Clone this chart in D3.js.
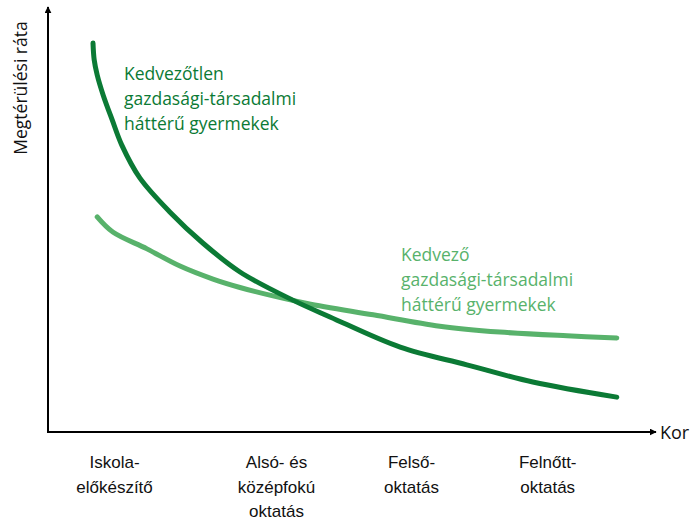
<!DOCTYPE html>
<html>
<head>
<meta charset="utf-8">
<script src="https://cdn.jsdelivr.net/npm/d3@7"></script>
<style>
  body { margin: 0; background: #fff; }
  svg { font-family: "Open Sans", sans-serif; }
</style>
</head>
<body>
<div id="chart"></div>
<script>
// age position (0-100) and return rate (0-100)
var disadvAge  = [7.5, 7.7, 8.2, 9.2, 10.7, 12.3, 15.3, 20.3, 25.8, 32, 40.8, 47, 58.7, 69.8, 80.8, 94.8];
var disadvRate = [92.6, 88.6, 85.0, 80.2, 74.3, 68.3, 60.5, 52.4, 45, 38.1, 31.4, 27.4, 20.2, 16.0, 11.9, 8.3];

var advAge  = [8.2, 10.8, 16.5, 22, 27.5, 32, 37.5, 43.2, 54.2, 65.3, 75.3, 86.5, 94.8];
var advRate = [51.2, 47.6, 43.6, 39.5, 36.4, 34.4, 32.4, 30.6, 27.9, 25.2, 23.8, 22.9, 22.4];

// education stages along the age axis
var stages   = ["Iskola-\nelőkészítő", "Alsó- és\nközépfokú\noktatás", "Felső-\noktatás", "Felnőtt-\noktatás"];
var stageAge = [11, 38, 60.5, 83.2];

var disadvLabel = ["Kedvezőtlen", "gazdasági-társadalmi", "háttérű gyermekek"];
var advLabel    = ["Kedvező", "gazdasági-társadalmi", "háttérű gyermekek"];

function draw() {
    var width = 692, height = 520;
    var dark = "#0b7a35", light = "#58b26b";

    var svg = d3.select("#chart").append("svg")
        .attr("width", width)
        .attr("height", height);

    var x = d3.scaleLinear().domain([0, 100]).range([48, 648]);
    var y = d3.scaleLinear().domain([0, 100]).range([432, 12]);

    // arrow marker for the axes
    svg.append("defs").append("marker")
        .attr("id", "arrow")
        .attr("viewBox", "0 0 10 10")
        .attr("refX", 9).attr("refY", 5)
        .attr("markerWidth", 7).attr("markerHeight", 7)
        .attr("markerUnits", "userSpaceOnUse")
        .attr("orient", "auto")
        .append("path")
        .attr("d", "M0,0L10,5L0,10Z")
        .attr("fill", "#000");

    // bottom axis carries the stage labels
    var xAxis = d3.axisBottom(x)
        .tickValues(stageAge)
        .tickSize(0)
        .tickFormat("");
    var gx = svg.append("g")
        .attr("transform", "translate(0," + y(0) + ")")
        .call(xAxis);
    gx.select(".domain").remove();

    gx.selectAll(".tick").each(function(d, i) {
        var t = d3.select(this).append("text")
            .attr("fill", "#111")
            .attr("text-anchor", "middle")
            .style("font-size", "17px");
        stages[i].split("\n").forEach(function(line, j) {
            t.append("tspan").attr("x", 0).attr("y", 36 + j * 24.5).text(line);
        });
    });

    // axis lines with arrows
    svg.append("line")
        .attr("x1", x(0)).attr("y1", y(0))
        .attr("x2", 656).attr("y2", y(0))
        .attr("stroke", "#000").attr("stroke-width", 2)
        .attr("marker-end", "url(#arrow)");
    svg.append("line")
        .attr("x1", x(0)).attr("y1", y(0) + 1)
        .attr("x2", x(0)).attr("y2", 7)
        .attr("stroke", "#000").attr("stroke-width", 2)
        .attr("marker-end", "url(#arrow)");

    svg.append("text")
        .attr("x", 660).attr("y", y(0) + 7)
        .style("font-size", "18px")
        .attr("fill", "#111")
        .text("Kor");

    svg.append("text")
        .attr("transform", "translate(27,88) rotate(-90)")
        .attr("text-anchor", "middle")
        .style("font-size", "17.5px")
        .attr("fill", "#111")
        .text("Megtérülési ráta");

    var line = d3.line()
        .x(function(d) { return x(d[0]); })
        .y(function(d) { return y(d[1]); })
        .curve(d3.curveCatmullRom.alpha(0.5));

    var advData = d3.zip(advAge, advRate);
    var disData = d3.zip(disadvAge, disadvRate);

    svg.append("path")
        .datum(advData)
        .attr("d", line)
        .attr("fill", "none")
        .attr("stroke", light)
        .attr("stroke-width", 5)
        .attr("stroke-linecap", "round");

    svg.append("path")
        .datum(disData)
        .attr("d", line)
        .attr("fill", "none")
        .attr("stroke", dark)
        .attr("stroke-width", 5)
        .attr("stroke-linecap", "round");

    // series labels
    function addLabel(lines, px, py, color) {
        var t = svg.append("text")
            .attr("fill", color)
            .style("font-size", "17.5px");
        lines.forEach(function(l, j) {
            t.append("tspan").attr("x", px).attr("y", py + j * 25).text(l);
        });
    }
    addLabel(disadvLabel, 124, 80, dark);
    addLabel(advLabel, 401, 261, light);
}

draw();
</script>
</body>
</html>
